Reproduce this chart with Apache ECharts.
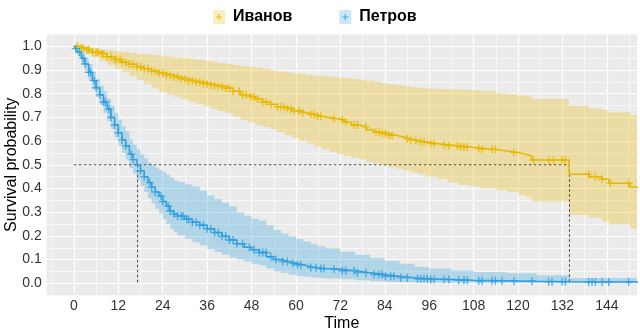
<!DOCTYPE html>
<html><head><meta charset="utf-8">
<script src="https://cdn.jsdelivr.net/npm/echarts@6/dist/echarts.min.js"></script>
<style>html,body{margin:0;padding:0;background:#fff}#c{width:640px;height:336px}</style>
</head><body><div id="c"></div>
<script>
const groupNames = ['Иванов', 'Петров'];
const xTickLabels = [0, 12, 24, 36, 48, 60, 72, 84, 96, 108, 120, 132, 144];
const yTickLabels = [0, 0.1, 0.2, 0.3, 0.4, 0.5, 0.6, 0.7, 0.8, 0.9, 1.0];
const medianTimes = [133.9, 17.2];

// Иванов
const ivTimes = [0, 1.5, 3, 5, 7, 9, 11, 13, 15, 17,
  19, 21, 23, 25, 27, 29, 31, 33, 35, 37, 39, 41,
  43, 45, 47, 49, 51, 53, 55, 57, 59, 61, 63, 65, 67, 69, 71, 73, 75, 77, 79, 81, 83, 85, 87, 89, 91, 93, 95,
  98, 101, 104, 107, 110, 114, 117, 120, 122, 123.6,
  133.8, 139.2, 142.7, 144.6, 150.3, 156];
const ivSurv = [1.0, 0.993, 0.985, 0.976, 0.968, 0.956, 0.944, 0.933, 0.924, 0.914,
  0.905, 0.895, 0.886, 0.878, 0.870, 0.862, 0.855, 0.848, 0.842, 0.836, 0.830, 0.823,
  0.810, 0.795, 0.787, 0.778, 0.765, 0.755, 0.745, 0.737, 0.728, 0.720, 0.713, 0.705, 0.700, 0.695, 0.690, 0.680, 0.668, 0.660, 0.648, 0.638, 0.632, 0.625, 0.618, 0.610, 0.603, 0.597, 0.590,
  0.585, 0.580, 0.575, 0.570, 0.565, 0.558, 0.552, 0.545, 0.538, 0.520,
  0.460, 0.450, 0.439, 0.422, 0.405, 0.405];
const ivUpper = [1.0, 1.0, 0.997, 0.991, 0.987, 0.983, 0.979, 0.976, 0.972, 0.968,
  0.966, 0.963, 0.960, 0.957, 0.954, 0.951, 0.948, 0.944, 0.940, 0.935, 0.930, 0.925,
  0.921, 0.917, 0.914, 0.911, 0.905, 0.899, 0.894, 0.890, 0.887, 0.883, 0.879, 0.876, 0.874, 0.871, 0.868, 0.866, 0.862, 0.859, 0.855, 0.850, 0.845, 0.840, 0.836, 0.831, 0.827, 0.824, 0.822,
  0.820, 0.818, 0.817, 0.815, 0.810, 0.802, 0.798, 0.792, 0.789, 0.778,
  0.749, 0.738, 0.731, 0.722, 0.710, 0.710];
const ivLower = [1.0, 0.985, 0.968, 0.952, 0.937, 0.920, 0.905, 0.892, 0.875, 0.858,
  0.840, 0.823, 0.806, 0.796, 0.786, 0.776, 0.766, 0.756, 0.746, 0.736, 0.726, 0.717,
  0.703, 0.689, 0.678, 0.668, 0.660, 0.650, 0.638, 0.625, 0.612, 0.600, 0.590, 0.578, 0.566, 0.555, 0.545, 0.538, 0.530, 0.522, 0.513, 0.505, 0.498, 0.490, 0.483, 0.476, 0.468, 0.460, 0.450,
  0.440, 0.425, 0.415, 0.408, 0.400, 0.393, 0.385, 0.373, 0.365, 0.345,
  0.288, 0.277, 0.262, 0.248, 0.232, 0.232];
const ivCensor = [1, 2, 2.5, 3.5, 4, 5, 6, 6.5, 7.5, 8, 9, 10, 11, 11.5, 12.5, 13, 14, 15, 16, 17, 18, 19, 20, 21, 22,
  23, 24, 25, 26, 27, 28, 29, 30, 31, 32, 33, 34, 35, 36, 37, 38, 39, 40, 41, 42, 43,
  44.7, 45.6, 46.5, 47.8, 48.7, 49.6, 51.0, 51.9, 53.2, 55.0, 55.9, 56.8, 57.7, 58.6, 59.5, 60.9, 61.8,
  64.0, 64.9, 65.8, 66.7, 70.3, 72.5, 73.5, 75.7, 76.6, 78.9, 81.6, 82.4, 83.3, 84.2, 85.1, 86.0,
  90.1, 91.0, 92.4, 93.7, 94.6, 96.4, 97.3, 100.0, 101.3, 103.6, 104.5, 105.4, 106.3, 109.4, 110.3,
  113.0, 113.9, 118.9, 124.2, 128.3, 129.6, 131.9, 132.8, 139.1, 140.9, 142.7, 144.9, 149.9];

// Петров
const ptTimes = [0, 0.5, 1,
  2, 3, 4, 5, 6, 7, 8, 9, 10, 11, 12, 13, 14, 15, 16, 17, 18, 19, 20, 21, 22, 23, 24, 25, 26, 27, 28,
  30, 32, 34, 36, 38, 40, 42, 44, 46, 48, 50, 52, 54, 56, 58, 60, 62, 64, 66, 68,
  72, 76, 80, 84, 88, 92, 96,
  102, 108, 117, 125, 134, 156];
const ptSurv = [1.0, 0.99, 0.975,
  0.95, 0.925, 0.89, 0.855, 0.825, 0.795, 0.765, 0.735, 0.70, 0.668, 0.635, 0.605, 0.58, 0.545, 0.522, 0.50, 0.475, 0.45, 0.425, 0.405, 0.385, 0.368, 0.345, 0.325, 0.305, 0.293, 0.283,
  0.27, 0.258, 0.245, 0.23, 0.214, 0.198, 0.183, 0.167, 0.152, 0.142, 0.13, 0.112, 0.10, 0.092, 0.085, 0.078, 0.07, 0.066, 0.062, 0.059,
  0.053, 0.045, 0.037, 0.03, 0.023, 0.019, 0.016,
  0.013, 0.011, 0.009, 0.007, 0.005, 0.005];
const ptUpper = [1.0, 1.0, 0.99,
  0.97, 0.95, 0.925, 0.89, 0.862, 0.835, 0.81, 0.78, 0.75, 0.72, 0.69, 0.662, 0.64, 0.607, 0.585, 0.565, 0.545, 0.528, 0.51, 0.498, 0.488, 0.478, 0.47, 0.458, 0.445, 0.435, 0.428,
  0.418, 0.408, 0.39, 0.37, 0.355, 0.34, 0.325, 0.3, 0.285, 0.272, 0.265, 0.245, 0.225, 0.21, 0.198, 0.187, 0.176, 0.165, 0.156, 0.148,
  0.133, 0.12, 0.107, 0.095, 0.082, 0.07, 0.062,
  0.054, 0.048, 0.042, 0.034, 0.022, 0.02];
const ptLower = [1.0, 0.98, 0.96,
  0.925, 0.895, 0.855, 0.818, 0.785, 0.752, 0.72, 0.686, 0.65, 0.615, 0.58, 0.55, 0.522, 0.487, 0.462, 0.437, 0.41, 0.385, 0.36, 0.337, 0.315, 0.295, 0.27, 0.25, 0.23, 0.215, 0.203,
  0.188, 0.173, 0.16, 0.145, 0.132, 0.12, 0.109, 0.1, 0.092, 0.083, 0.076, 0.062, 0.05, 0.043, 0.037, 0.032, 0.028, 0.025, 0.022, 0.02,
  0.017, 0.013, 0.009, 0.006, 0.004, 0.003, 0.0025,
  0.002, 0.0015, 0.001, 0.001, 0.0005, 0.0005];
const ptCensor = [0.5, 1.5, 2.5, 3, 4, 4.5, 5.5, 6, 7, 8, 8.5, 9.5, 10, 11, 12, 13, 14, 15.5, 16, 18, 19, 20.5, 21, 22,
  23.5, 24, 25.5, 26, 27, 28, 29, 29.5, 30.5, 31, 32, 33, 34, 35, 36, 37, 38, 39, 40, 41, 42, 43, 44,
  45.6, 47.4, 48.7, 50.1, 51.0, 51.9, 53.2, 54.6, 56.4, 57.7, 59.1, 60.4, 61.3, 64.0, 65.4, 66.7, 67.6,
  70.3, 72.5, 73.5, 75.7, 76.6, 78.9, 81.1, 82.4, 83.3, 84.2, 85.6, 86.5, 88.3, 90.1, 92.8, 93.7, 94.6,
  95.5, 96.4, 97.3, 100.0, 101.3, 104.0, 105.4, 106.3, 109.4, 110.3, 113.0, 113.9, 115.7, 118.9, 123.8,
  128.3, 129.2, 131.9, 132.8, 139.1, 140.0, 140.9, 142.7, 144.5, 149.9];

const FONT = '"Liberation Sans", Arial, sans-serif';
const colY = '#E7B800', colB = '#2E9FDF';
const bandY = 'rgba(231,184,0,0.3)', bandB = 'rgba(46,159,223,0.3)';
const PLUS = 'path://M-0.7,-4h1.4v3.3h3.3v1.4h-3.3v3.3h-1.4v-3.3h-3.3v-1.4h3.3z';
const PLUS_LEG = 'path://M0,0h0.01v0.01h-0.01z M12,14h-0.01v-0.01h0.01z M5.4,4h1.2v2.4h2.4v1.2h-2.4v2.4h-1.2v-2.4h-2.4v-1.2h2.4z';
const X_MIN = -7.35, X_MAX = 152.15;

function zip(t, v) { return t.map((x, i) => [x, v[i]]); }
function stepAt(t, v, x) { let k = 0; for (let i = 0; i < t.length; i++) { if (t[i] <= x) k = i; } return v[k]; }
function censorPts(c, t, v) { return c.map(x => [x, stepAt(t, v, x)]); }

// confidence band drawn as one stepped polygon, converted through the axes
function bandSeries(name, times, up, lo, color) {
  return {
    type: 'custom', name: name, silent: true, clip: true, z: 2,
    data: [[times[0], up[0]]],
    renderItem: function (params, api) {
      const cx = x => Math.min(Math.max(x, X_MIN), X_MAX);
      const pts = [];
      for (let i = 0; i < times.length; i++) {
        const t0 = cx(times[i]);
        const t1 = cx(i + 1 < times.length ? times[i + 1] : times[i]);
        pts.push(api.coord([t0, up[i]]));
        pts.push(api.coord([t1, up[i]]));
      }
      for (let i = times.length - 1; i >= 0; i--) {
        const t0 = cx(times[i]);
        const t1 = cx(i + 1 < times.length ? times[i + 1] : times[i]);
        pts.push(api.coord([t1, lo[i]]));
        pts.push(api.coord([t0, lo[i]]));
      }
      return { type: 'polygon', shape: { points: pts }, style: { fill: color, stroke: null } };
    }
  };
}

const xMinor = [-6].concat(xTickLabels.map(v => v + 6));
const yMinor = yTickLabels.map(v => +(v + 0.05).toFixed(2)).filter(v => v < 1.0);
const gridLines = []
  .concat(xMinor.map(v => ({ xAxis: v, lineStyle: { width: 0.6 } })))
  .concat(yMinor.map(v => ({ yAxis: v, lineStyle: { width: 0.6 } })))
  .concat(xTickLabels.map(v => ({ xAxis: v, lineStyle: { width: 1.2 } })))
  .concat(yTickLabels.map(v => ({ yAxis: v, lineStyle: { width: 1.2 } })));

const chart = echarts.init(document.getElementById('c'), null, { renderer: 'canvas' });
const legendBase = {
  left: 213, top: 9, padding: 0, itemWidth: 12, itemHeight: 14, itemGap: 47, selectedMode: false,
  textStyle: { fontSize: 16, fontWeight: 'bold', fontFamily: FONT, color: '#000', padding: [0, 0, 0, 3] }
};
chart.setOption({
  animation: false,
  backgroundColor: '#fff',
  textStyle: { fontFamily: FONT },
  legend: [
    Object.assign({}, legendBase, {
      icon: 'rect',
      data: [{ name: groupNames[0], itemStyle: { color: bandY, borderWidth: 0 } },
             { name: groupNames[1], itemStyle: { color: bandB, borderWidth: 0 } }]
    }),
    Object.assign({}, legendBase, {
      icon: PLUS_LEG,
      textStyle: Object.assign({}, legendBase.textStyle, { color: 'rgba(0,0,0,0)' }),
      data: [{ name: groupNames[0], itemStyle: { color: colY, borderWidth: 0 } },
             { name: groupNames[1], itemStyle: { color: colB, borderWidth: 0 } }]
    })
  ],
  grid: { left: 46.7, right: 3, top: 34.45, bottom: 40.85, show: true, backgroundColor: '#EBEBEB', borderWidth: 0,
    containLabel: false, outerBoundsMode: 'none' },
  xAxis: {
    type: 'value', min: X_MIN, max: X_MAX,
    name: 'Time', nameLocation: 'middle', nameGap: 20, nameMoveOverlap: false,
    nameTextStyle: { fontSize: 16, color: '#000', fontFamily: FONT },
    axisLine: { show: false },
    axisTick: { show: true, length: 3.5, lineStyle: { color: '#333', width: 1 }, customValues: xTickLabels },
    axisLabel: { customValues: xTickLabels, fontSize: 14, color: '#333', margin: 3.5, fontFamily: FONT },
    splitLine: { show: false }
  },
  yAxis: {
    type: 'value', min: -0.05, max: 1.05,
    name: 'Survival probability', nameLocation: 'middle', nameGap: 27, nameMoveOverlap: false,
    nameTextStyle: { fontSize: 16, color: '#000', fontFamily: FONT },
    axisLine: { show: false },
    axisTick: { show: true, length: 3.5, lineStyle: { color: '#333', width: 1 }, customValues: yTickLabels },
    axisLabel: { customValues: yTickLabels, fontSize: 14, color: '#333', margin: 5, fontFamily: FONT,
      formatter: v => (+v).toFixed(1) },
    splitLine: { show: false }
  },
  series: [
    { type: 'line', name: 'gridHelper', data: [], silent: true, z: 1,
      markLine: { silent: true, z: 1, symbol: ['none', 'none'], label: { show: false }, animation: false,
        lineStyle: { color: '#fff', type: 'solid' }, data: gridLines } },
    bandSeries('ivBand', ivTimes, ivUpper, ivLower, bandY),
    bandSeries('ptBand', ptTimes, ptUpper, ptLower, bandB),
    { type: 'line', name: 'medIv', z: 3, data: [[0, 0.5], [medianTimes[0], 0.5], [medianTimes[0], 0]], showSymbol: false,
      lineStyle: { color: '#333', width: 0.9, type: [2.5, 2.5] }, silent: true },
    { type: 'line', name: 'medPt', z: 3, data: [[medianTimes[1], 0.5], [medianTimes[1], 0]], showSymbol: false,
      lineStyle: { color: '#333', width: 0.9, type: [2.5, 2.5] }, silent: true },
    { type: 'line', name: 'ivLine', z: 4, step: 'end', data: zip(ivTimes, ivSurv), showSymbol: false,
      lineStyle: { color: colY, width: 1.5 }, silent: true },
    { type: 'line', name: 'ptLine', z: 4, step: 'end', data: zip(ptTimes, ptSurv), showSymbol: false,
      lineStyle: { color: colB, width: 1.5 }, silent: true },
    { type: 'scatter', name: groupNames[0], z: 5, data: censorPts(ivCensor, ivTimes, ivSurv), symbol: PLUS, symbolSize: 8,
      itemStyle: { color: colY }, silent: true },
    { type: 'scatter', name: groupNames[1], z: 5, data: censorPts(ptCensor, ptTimes, ptSurv), symbol: PLUS, symbolSize: 8,
      itemStyle: { color: colB }, silent: true }
  ]
});
</script></body></html>
